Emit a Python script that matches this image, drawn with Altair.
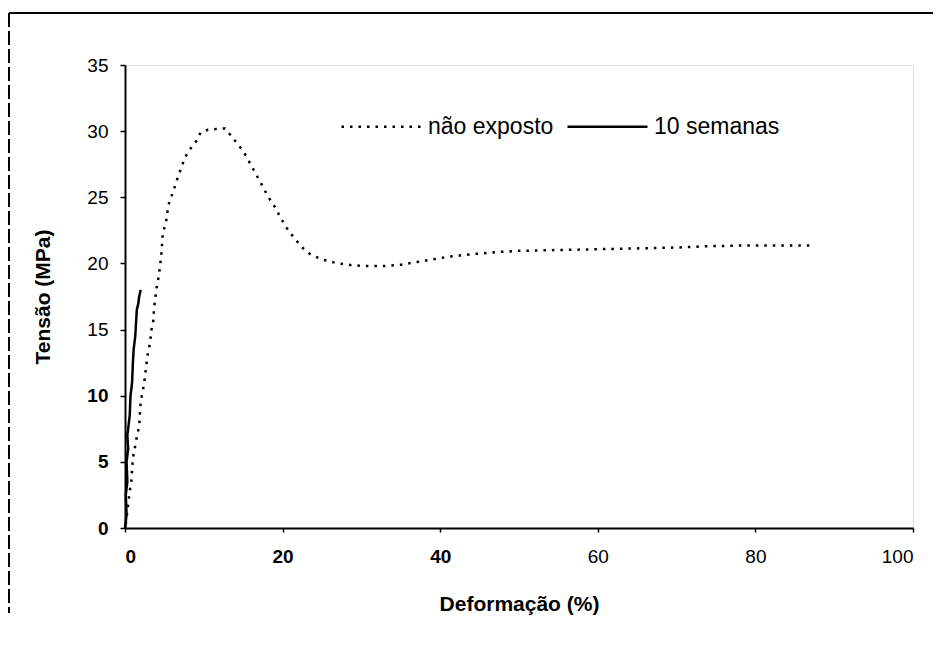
import altair as alt
import pandas as pd

# "não exposto" (dotted) series
unexp_x = [0.1, 0.6, 0.8, 0.9, 1.0, 1.3, 1.5, 1.8, 1.9, 2.0, 2.3, 2.5, 2.7, 2.9, 3.2,
           3.3, 3.6, 3.7, 4.0, 4.3, 4.6, 4.8, 5.2, 5.5, 6.1, 6.7, 7.6, 8.2, 9.0, 9.6,
           10.5, 12.1, 12.7, 14.2, 15.1, 16.3, 17.4, 18.2, 19.1, 19.7, 20.5, 21.5, 22.5, 23.5, 25.0,
           27.0, 29.0, 31.0, 33.0, 35.0, 37.0, 39.0, 41.0, 44.0, 47.0, 50.0, 54.0, 58.0, 62.0, 66.0,
           70.0, 74.0, 78.0, 82.0, 87.0]
unexp_y = [0.3, 2.8, 3.5, 4.4, 5.3, 6.2, 6.9, 7.7, 8.7, 9.6, 10.5, 11.3, 12.3, 13.2, 14.0,
           14.8, 15.7, 16.7, 18.1, 19.1, 20.6, 22.3, 23.1, 24.4, 25.4, 26.5, 28.0, 28.6, 29.2, 29.9,
           30.1, 30.2, 30.2, 29.1, 28.4, 27.1, 25.9, 25.0, 24.2, 23.5, 22.7, 21.9, 21.2, 20.7, 20.3,
           20.0, 19.85, 19.8, 19.8, 19.9, 20.1, 20.3, 20.5, 20.7, 20.85, 20.95, 21.0, 21.05, 21.1, 21.15,
           21.2, 21.3, 21.35, 21.35, 21.35]

# "10 semanas" (solid) series
wk10_x = [0.0, 0.2, 0.1, 0.3, 0.2, 0.4, 0.3, 0.5, 0.6, 0.7, 0.9, 1.0, 1.1, 1.3, 1.4, 1.5, 1.7, 1.8, 2.0]
wk10_y = [0.0, 1.0, 2.5, 3.5, 5.0, 6.0, 7.0, 8.0, 8.5, 10.0, 11.0, 12.5, 13.5, 14.5, 15.5, 16.5, 17.0, 17.5, 18.0]

series_names = ["não exposto", "10 semanas"]
x_ticks = [0, 20, 40, 60, 80, 100]
y_ticks = [0, 5, 10, 15, 20, 25, 30, 35]

rows = []
for i, (xv, yv) in enumerate(zip(unexp_x, unexp_y)):
    rows.append({"x": xv, "y": yv, "serie": series_names[0], "ord": i})
for i, (xv, yv) in enumerate(zip(wk10_x, wk10_y)):
    rows.append({"x": xv, "y": yv, "serie": series_names[1], "ord": i})
df = pd.DataFrame(rows)

FONT = "Liberation Sans"
W, H = 788, 463

lines = alt.Chart(df).mark_line(color="black", strokeWidth=2.5, clip=False).encode(
    x=alt.X("x:Q", scale=alt.Scale(domain=[0, 100], nice=False),
            axis=alt.Axis(values=x_ticks, title="Deformação (%)", grid=False,
                          domainColor="black", domainWidth=2, tickColor="black",
                          tickSize=4, tickWidth=1.5, labelPadding=15,
                          labelFont=FONT, labelFontSize=19, labelColor="black",
                          labelFontWeight={"condition": {"test": "datum.value <= 40", "value": "bold"}, "value": "normal"},
                          titleFont=FONT, titleFontSize=21, titleFontWeight="bold",
                          titleColor="black", titleX=W / 2, titleY=76,
                          titleBaseline="middle")),
    y=alt.Y("y:Q", scale=alt.Scale(domain=[0, 35], nice=False),
            axis=alt.Axis(values=y_ticks, title="Tensão (MPa)", grid=False,
                          domainColor="black", domainWidth=2, tickColor="black",
                          tickSize=5, tickWidth=1.5, labelPadding=12,
                          labelFont=FONT, labelFontSize=19, labelColor="black",
                          labelFontWeight={"condition": {"test": "datum.value <= 10", "value": "bold"}, "value": "normal"},
                          titleFont=FONT, titleFontSize=21, titleFontWeight="bold",
                          titleColor="black", titleAngle=-90, titleX=-82, titleY=H / 2,
                          titleBaseline="middle")),
    strokeDash=alt.StrokeDash("serie:N",
                              scale=alt.Scale(domain=series_names, range=[[2.5, 6], [1, 0]]),
                              legend=alt.Legend(title=None, orient="none", direction="horizontal",
                                                legendX=215, legendY=20,
                                                symbolType="stroke", symbolSize=6400,
                                                symbolStrokeWidth=2.5, symbolStrokeColor="black",
                                                labelFont=FONT, labelFontSize=23, labelColor="black",
                                                labelOffset=5, columnPadding=8)),
    order="ord:Q",
    detail="serie:N",
)

frame_top = alt.Chart(df).mark_rule(color="black", strokeWidth=2).encode(
    x=alt.value(-116), x2=alt.value(W + 20), y=alt.value(-52)
)
frame_left = alt.Chart(df).mark_rule(color="black", strokeWidth=1.2, strokeDash=[14, 4]).encode(
    x=alt.value(-116), y=alt.value(-52), y2=alt.value(H + 85)
)

chart = alt.layer(lines, frame_top, frame_left).properties(
    width=W, height=H,
    autosize=alt.AutoSizeParams(type="none"),
    padding={"left": 117, "top": 57, "right": 21, "bottom": 111},
).configure_view(stroke="black", strokeWidth=2).configure(background="white")

chart.save("out.html", embed_options={"renderer": "svg", "actions": False})
